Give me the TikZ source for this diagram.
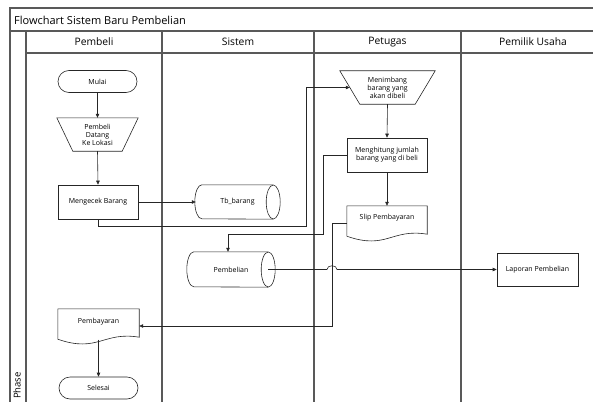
\documentclass[tikz,border=0pt]{standalone}
\usepackage{fontspec}
\setmainfont{Open Sans}
\usetikzlibrary{shapes.geometric,shapes.misc,arrows.meta,calc}

\begin{document}
\begin{tikzpicture}[x=1pt,y=-1pt,
  frame/.style={draw=black!65, line width=1.1pt},
  shapeline/.style={draw=black!85, line width=0.6pt},
  small/.style={font=\fontsize{7}{8}\selectfont},
  box/.style={shapeline, small, rectangle, minimum width=80pt, minimum height=34pt,
    inner sep=1pt, align=center},
  term/.style={shapeline, small, rounded rectangle, minimum width=81pt,
    minimum height=22pt, inner sep=1pt},
  plain/.style={small, rectangle, inner sep=1pt, align=center},
  flow/.style={draw=black!85, line width=0.6pt, -{Triangle[length=4pt,width=3.5pt]}},
  lane/.style={font=\fontsize{10.3}{12}\selectfont},
]
\useasboundingbox (0,0) rectangle (593,401);
\clip (0,0) rectangle (593,401);

% ---- pool frame and swimlanes ----
\draw[frame] (10,410) -- (10,8) -- (610,8);
\draw[frame] (10,31) -- (610,31);
\draw[frame] (26,53) -- (610,53);
\foreach \xl in {26,162,314,461} \draw[frame] (\xl,31) -- (\xl,410);

\node[anchor=west, inner sep=0pt, font=\fontsize{11}{13}\selectfont] (title) at (14,20)
  {Flowchart Sistem Baru Pembelian};
\node[lane] (hPembeli) at (94,42) {Pembeli};
\node[lane] (hSistem) at (238,42) {Sistem};
\node[lane] (hPetugas) at (387.5,42) {Petugas};
\node[lane] (hPemilik) at (533,42) {Pemilik Usaha};
\node[rotate=90, anchor=mid east, inner sep=0pt, font=\fontsize{9.5}{11}\selectfont] (phase)
  at (18,372) {Phase};

% ---- Pembeli ----
\node[term] (mulai) at (97.5,81.5) {Mulai};
\node[plain, minimum width=81pt, minimum height=33pt] (datang) at (97.5,134.5)
  {Pembeli\\Datang\\Ke Lokasi};
\draw[shapeline] (datang.north west) -- (datang.north east)
  -- ([xshift=-16pt]datang.south east) -- ([xshift=16pt]datang.south west) -- cycle;
\node[box] (cek) at (98,202) {Mengecek Barang};

\node[plain, minimum width=81pt, minimum height=34pt] (bayar) at (98.5,326) {};
\node[small, inner sep=0pt] (bayarText) at (98.5,322) {Pembayaran};
\node[term] (selesai) at (98.5,388) {Selesai};

% ---- Sistem (stored data drums) ----
\node[plain, minimum width=85pt, minimum height=34pt] (tb) at (237.5,202) {Tb\_barang};
\node[plain, minimum width=88pt, minimum height=35pt] (beli) at (231,269.5) {Pembelian};
\draw[shapeline] ([xshift=-7pt]tb.north east) -- ([xshift=7pt]tb.north west)
  arc[start angle=90, end angle=270, x radius=7pt, y radius=17pt]
  -- ([xshift=-7pt]tb.south east);
\draw[shapeline] ([xshift=-7pt]tb.east) ellipse [x radius=7pt, y radius=17pt];
\draw[shapeline] ([xshift=-7pt]beli.north east) -- ([xshift=7pt]beli.north west)
  arc[start angle=90, end angle=270, x radius=7pt, y radius=17.5pt]
  -- ([xshift=-7pt]beli.south east);
\draw[shapeline] ([xshift=-7pt]beli.east) ellipse [x radius=7pt, y radius=17.5pt];

% ---- Petugas ----
\node[plain, minimum width=95pt, minimum height=33pt] (timbang) at (387.5,87.5)
  {Menimbang\\barang yang\\akan dibeli};
\draw[shapeline] (timbang.north west) -- (timbang.north east)
  -- ([xshift=-20pt]timbang.south east) -- ([xshift=20pt]timbang.south west) -- cycle;
\coordinate (timbangIn) at ($(timbang.north west)!0.5!([xshift=20pt]timbang.south west)$);
\node[box] (hitung) at (387,155) {Menghitung jumlah\\barang yang di beli};
\node[plain, minimum width=80pt, minimum height=34pt] (slip) at (387,223) {};
\node[small, inner sep=0pt] (slipText) at (387,218) {Slip Pembayaran};

% document outlines (wavy lower edge)
\foreach \d in {bayar,slip}{
  \draw[shapeline] ([yshift=4pt]\d.south west) -- (\d.north west) -- (\d.north east)
    -- ([yshift=6pt]\d.south east)
    .. controls ([xshift=-36pt,yshift=12pt]\d.south east)
    and ([xshift=40pt,yshift=-10pt]\d.south west) .. ([yshift=4pt]\d.south west);
}

% ---- Pemilik Usaha ----
\node[box, minimum width=81pt, minimum height=33pt] (lapor) at (537.5,269.5) {Laporan Pembelian};

% ---- connectors ----
\coordinate (bendA) at (306,226);
\coordinate (bendB) at (323,234);
\coordinate (bendC) at (332,326);
\coordinate (hopL) at (327,269.5);
\coordinate (hopR) at (337,269.5);

\draw[flow] (mulai.south) -- (datang.north);
\draw[flow] (datang.south) -- (cek.north);
\draw[flow] (cek.east) -- ([xshift=1pt]tb.west);
\draw[flow] (cek.south) |- (bendA) |- (timbangIn);
\draw[flow] (timbang.south) -- (hitung.north);
\draw[flow] (hitung.south) -- (slip.north);
\draw[flow] (hitung.west) -| (bendB) -| ([xshift=-3pt]beli.north);
\draw[flow] (slip.west) -| (bendC) -- (bayar.east);
\draw[flow] ([yshift=3.5pt]bayar.south) -- (selesai.north);
\draw[flow] ([xshift=-7pt]beli.east) -- (hopL)
  .. controls ([yshift=5pt]hopL) and ([yshift=5pt]hopR) .. (hopR) -- (lapor.west);
\end{tikzpicture}
\end{document}
